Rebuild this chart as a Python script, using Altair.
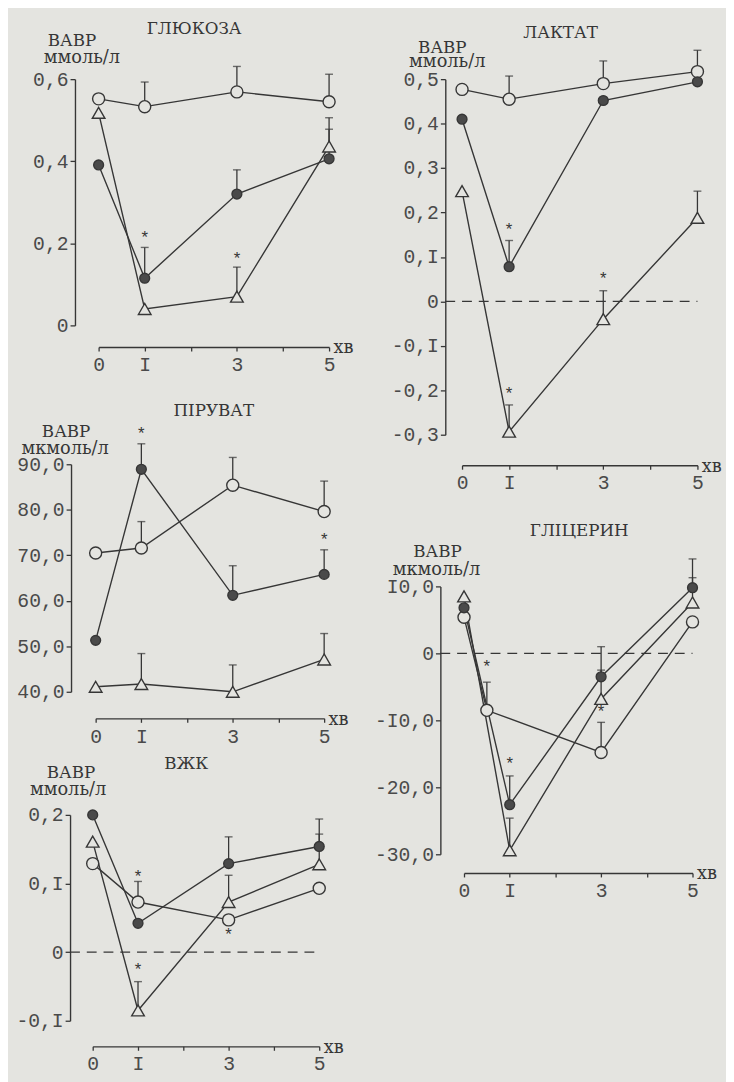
import altair as alt
import pandas as pd

BG = "#e4e4e0"
INK = "#363636"
DOT = "#4a4a4a"
LBL = "#4a4a4a"
FONT = "Liberation Mono"
TFONT = "DejaVu Serif"

X = [0, 1, 3, 5]
X_HALF = [0, 0.5, 3, 5]

# ---------------- ГЛЮКОЗА (ммоль/л)
glu_open = [0.552, 0.533, 0.569, 0.545]
glu_open_top = [None, 0.593, 0.631, 0.612]
glu_fill = [0.391, 0.115, 0.320, 0.406]
glu_fill_top = [None, 0.190, 0.379, 0.478]
glu_tri = [0.518, 0.040, 0.070, 0.436]
glu_tri_top = [None, None, 0.142, 0.506]
glu_star_x = [1, 3]
glu_star_y = [0.222, 0.170]
glu_ticks = [0, 0.2, 0.4, 0.6]
glu_labels = ["0", "0,2", "0,4", "0,6"]

# ---------------- ЛАКТАТ (ммоль/л)
lac_open = [0.477, 0.455, 0.490, 0.517]
lac_open_top = [None, 0.507, 0.541, 0.565]
lac_fill = [0.410, 0.078, 0.452, 0.494]
lac_fill_top = [None, 0.137, None, None]
lac_tri = [0.248, -0.293, -0.040, 0.188]
lac_tri_top = [None, -0.233, 0.024, 0.248]
lac_star_x = [1, 3, 1]
lac_star_y = [0.170, 0.060, -0.200]
lac_ticks = [-0.3, -0.2, -0.1, 0, 0.1, 0.2, 0.3, 0.4, 0.5]
lac_labels = ["-0,3", "-0,2", "-0,I", "0", "0,I", "0,2", "0,3", "0,4", "0,5"]

# ---------------- ПІРУВАТ (мкмоль/л)
pyr_open = [70.5, 71.6, 85.4, 79.6]
pyr_open_top = [None, 77.4, 91.5, 86.3]
pyr_fill = [51.3, 88.9, 61.2, 65.8]
pyr_fill_top = [None, 94.5, 67.7, 71.2]
pyr_tri = [41.1, 41.7, 40.0, 47.1]
pyr_tri_top = [None, 48.4, 45.9, 52.8]
pyr_star_x = [1, 5]
pyr_star_y = [97.6, 74.2]
pyr_ticks = [40, 50, 60, 70, 80, 90]
pyr_labels = ["40,0", "50,0", "60,0", "70,0", "80,0", "90,0"]

# ---------------- ГЛІЦЕРИН (мкмоль/л)
gly_open = [5.4, -8.5, -14.8, 4.7]
gly_open_top = [None, -4.3, -10.3, None]
gly_fill = [6.8, -22.6, -3.5, 9.8]
gly_fill_top = [None, -18.3, 1.0, 14.1]
gly_tri = [8.5, -29.4, -6.8, 7.6]
gly_tri_top = [None, -24.6, -2.5, 11.3]
gly_star_x = [0.5, 1, 3]
gly_star_y = [-1.5, -16.0, -8.2]
gly_ticks = [-30, -20, -10, 0, 10]
gly_labels = ["-30,0", "-20,0", "-I0,0", "0", "I0,0"]

# ---------------- ВЖК (ммоль/л)
vzk_open = [0.129, 0.073, 0.047, 0.093]
vzk_open_top = [None, 0.103, None, None]
vzk_fill = [0.200, 0.042, 0.129, 0.154]
vzk_fill_top = [None, None, 0.168, 0.194]
vzk_tri = [0.161, -0.085, 0.073, 0.128]
vzk_tri_top = [None, -0.043, 0.112, 0.172]
vzk_star_x = [1, 1, 3]
vzk_star_y = [0.115, -0.020, 0.030]
vzk_ticks = [-0.1, 0, 0.1, 0.2]
vzk_labels = ["-0,I", "0", "0,I", "0,2"]

X_TICKS = [0, 1, 2, 3, 4, 5]
X_LABELS = {0: "0", 1: "I", 3: "3", 5: "5"}
XEXPR = " : ".join(f"datum.value == {k} ? '{v}'" for k, v in X_LABELS.items()) + " : ''"


def panel(title, unit, series, stars, ticks, labels, domain,
          width, height, xrange, yrange, yoff, xoff, zero,
          tpos, vpos, upos):
    rows = []
    for name, xs, ys, tops in series:
        for x, y, t in zip(xs, ys, tops):
            rows.append({"s": name, "x": x, "y": y, "top": t})
    df = pd.DataFrame(rows)

    yexpr = " : ".join(
        f"abs(datum.value - ({v})) < 1e-6 ? '{l}'" for v, l in zip(ticks, labels)
    ) + " : ''"

    xaxis = alt.Axis(values=X_TICKS, labelExpr=XEXPR, offset=xoff, grid=False,
                     domainColor=INK, domainWidth=1.4, tickColor=INK, tickWidth=1.3,
                     tickSize=4, labelPadding=4, labelFont=FONT, labelFontSize=20,
                     labelColor=LBL, labelFlush=False,
                     title="хв", titleFont=TFONT, titleFontSize=18,
                     titleFontWeight="normal", titleColor=INK, titleAlign="left",
                     titleBaseline="middle", titleX=xrange[1] + 4, titleY=1,
                     titleAngle=0)
    yaxis = alt.Axis(values=ticks, labelExpr=yexpr, offset=yoff, grid=False,
                     domainColor=INK, domainWidth=1.4, tickColor=INK, tickWidth=1.3,
                     tickSize=5, labelPadding=2, labelFont=FONT, labelFontSize=20,
                     labelColor=LBL, title=None)
    xsc = alt.Scale(domain=[0, 5], range=xrange, nice=False, zero=False)
    ysc = alt.Scale(domain=domain, range=yrange, nice=False, zero=False)

    def XE(f):
        return alt.X(f, type="quantitative", scale=xsc, axis=xaxis)

    def YE(f):
        return alt.Y(f, type="quantitative", scale=ysc, axis=yaxis)

    base = alt.Chart(df)
    layers = []
    if zero:
        layers.append(
            alt.Chart(pd.DataFrame({"y": [0]}))
            .mark_rule(color=INK, strokeWidth=1.4, strokeDash=[10, 7])
            .encode(y=YE("y"), x=alt.value(-yoff), x2=alt.value(xrange[1]))
        )
    layers.append(
        base.mark_line(color=INK, strokeWidth=1.4)
        .encode(x=XE("x"), y=YE("y"), detail="s:N", order="x:Q")
    )
    errs = base.transform_filter("isValid(datum.top)")
    layers.append(
        errs.mark_rule(color=INK, strokeWidth=1.3)
        .encode(x=XE("x"), y=YE("y"), y2="top:Q")
    )
    layers.append(
        errs.mark_tick(orient="horizontal", color=INK, size=8, thickness=1.4)
        .encode(x=XE("x"), y=YE("top"))
    )
    styles = {
        "open": dict(shape="circle", size=150, fill=BG),
        "fill": dict(shape="circle", size=100, fill=DOT),
        "tri": dict(shape="triangle-up", size=165, fill=BG),
    }
    for name in ["tri", "open", "fill"]:
        st = styles[name]
        layers.append(
            base.transform_filter(f"datum.s == '{name}'")
            .mark_point(shape=st["shape"], size=st["size"], filled=True,
                        fill=st["fill"], stroke=INK, strokeWidth=1.4, opacity=1)
            .encode(x=XE("x"), y=YE("y"))
        )
    layers.append(
        alt.Chart(pd.DataFrame({"x": stars[0], "y": stars[1]}))
        .mark_text(text="*", font=FONT, fontSize=17, color=INK,
                   baseline="middle", dy=4)
        .encode(x=XE("x"), y=YE("y"))
    )
    for txt, pos, fs in [(title, tpos, 17), ("ВАВР", vpos, 17), (unit, upos, 18)]:
        layers.append(
            alt.Chart(pd.DataFrame({"t": [txt]}))
            .mark_text(font=TFONT, fontSize=fs, color=INK, align="center",
                       baseline="middle")
            .encode(text="t:N", x=alt.value(pos[0]), y=alt.value(pos[1]))
        )
    return alt.layer(*layers).properties(width=width, height=height)


glu = panel("ГЛЮКОЗА", "ммоль/л",
            [("open", X, glu_open, glu_open_top),
             ("fill", X, glu_fill, glu_fill_top),
             ("tri", X, glu_tri, glu_tri_top)],
            (glu_star_x, glu_star_y), glu_ticks, glu_labels, [0, 0.6],
            240, 250, [6, 240], [250, 0], 18, 22, False,
            (103, -51), (-21, -39), (-11, -21))

pyr = panel("ПІРУВАТ", "мкмоль/л",
            [("open", X, pyr_open, pyr_open_top),
             ("fill", X, pyr_fill, pyr_fill_top),
             ("tri", X, pyr_tri, pyr_tri_top)],
            (pyr_star_x, pyr_star_y), pyr_ticks, pyr_labels, [40, 90],
            235, 247, [3, 235], [247, 16], 22, 27, False,
            (123, -38), (-27, -17), (-28, 1))

vzk = panel("ВЖК", "ммоль/л",
            [("open", X, vzk_open, vzk_open_top),
             ("fill", X, vzk_fill, vzk_fill_top),
             ("tri", X, vzk_tri, vzk_tri_top)],
            (vzk_star_x, vzk_star_y), vzk_ticks, vzk_labels, [-0.1, 0.2],
            230, 209, [0, 230], [209, 0], 23, 26, True,
            (95, -52), (-22, -42), (-25, -25))

lac = panel("ЛАКТАТ", "ммоль/л",
            [("open", X, lac_open, lac_open_top),
             ("fill", X, lac_fill, lac_fill_top),
             ("tri", X, lac_tri, lac_tri_top)],
            (lac_star_x, lac_star_y), lac_ticks, lac_labels, [-0.3, 0.5],
            239, 361, [0, 239], [361, 0], 17, 31, True,
            (100, -47), (-20, -32), (-15, -17))

gly = panel("ГЛІЦЕРИН", "мкмоль/л",
            [("open", X_HALF, gly_open, gly_open_top),
             ("fill", X, gly_fill, gly_fill_top),
             ("tri", X, gly_tri, gly_tri_top)],
            (gly_star_x, gly_star_y), gly_ticks, gly_labels, [-30, 10],
            234, 272, [2, 234], [272, 0], 22, 19, True,
            (119, -56), (-25, -35), (-26, -17))

left = alt.vconcat(glu, pyr, vzk, spacing=125, bounds="flush")
right = alt.vconcat(lac, gly, spacing=154, bounds="flush")

# nested columns report no width under flush bounds, so the spacing is the
# distance between the two columns' plot-area left edges
chart = (
    alt.hconcat(left, right, spacing=375, bounds="flush")
    .properties(background=BG, padding={"left": 7, "top": 4, "right": 4, "bottom": 4})
    .configure_view(strokeWidth=0)
)

chart.save("out.html", embed_options={"renderer": "svg", "actions": False})
